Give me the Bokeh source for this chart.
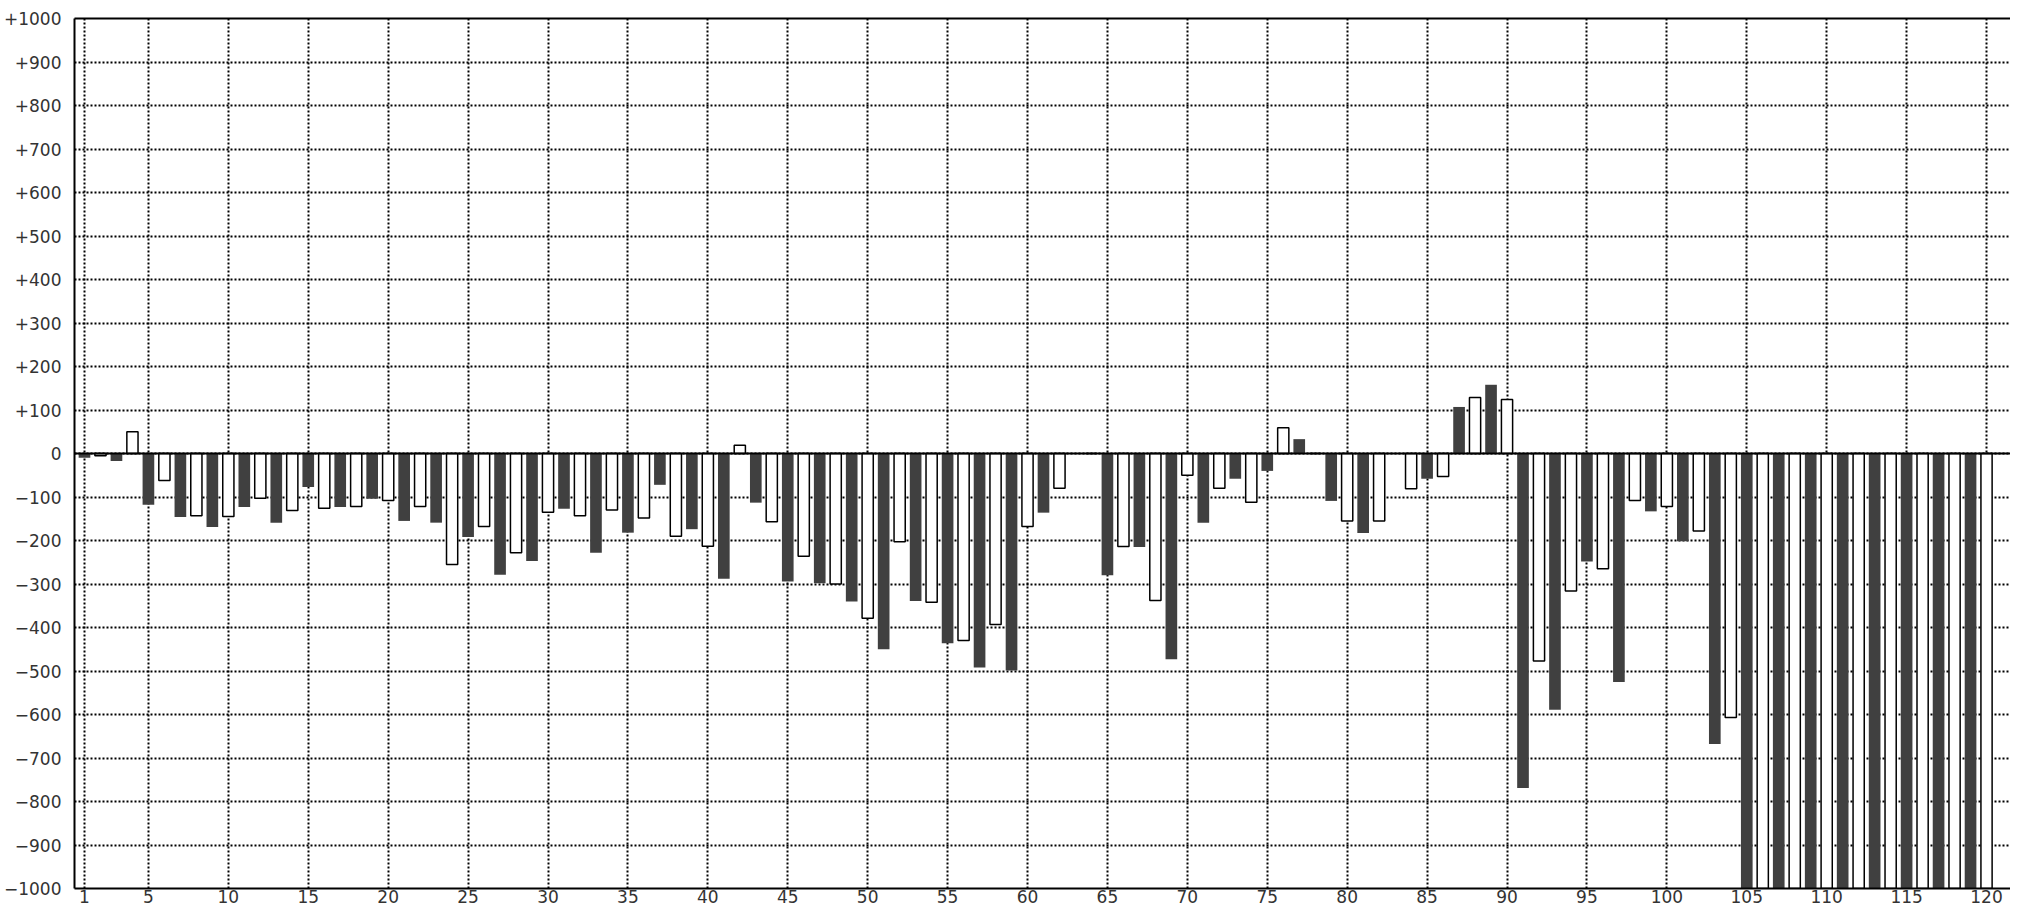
from bokeh.plotting import figure
from bokeh.models import FixedTicker, Range1d, Span, LinearAxis
from bokeh.embed import file_html
from bokeh.resources import INLINE

# ---- data ----
positions = list(range(1, 121))
values = [
    -10, -5, -17, 50, -118, -62, -146, -143, -169, -145,
    -123, -103, -159, -131, -77, -126, -123, -122, -104, -108,
    -155, -122, -159, -255, -192, -168, -279, -228, -247, -135,
    -127, -143, -228, -130, -182, -148, -72, -190, -174, -213,
    -288, 19, -113, -157, -294, -236, -298, -300, -340, -379,
    -450, -203, -339, -342, -436, -430, -492, -393, -499, -168,
    -136, -80, 0, 0, -280, -214, -215, -338, -473, -50,
    -159, -80, -58, -112, -40, 59, 33, 0, -109, -155,
    -183, -155, 0, -81, -58, -53, 107, 129, 158, 124,
    -769, -477, -589, -316, -248, -265, -525, -108, -133, -122,
    -202, -178, -668, -607, -1000, -1000, -1000, -1000, -1000, -1000,
    -1000, -1000, -1000, -1000, -1000, -1000, -1000, -1000, -1000, -1000,
]
x_ticks = [1] + list(range(5, 121, 5))
y_ticks = list(range(-1000, 1001, 100))


def ylab(v):
    if v > 0:
        return "+%d" % v
    if v == 0:
        return "0"
    return "\u2212%d" % (-v)


y_labels = {v: ylab(v) for v in y_ticks}

dark_x = [x for x in positions if x % 2 == 1]
dark_v = [values[x - 1] for x in dark_x]
light_x = [x for x in positions if x % 2 == 0]
light_v = [values[x - 1] for x in light_x]

FONT = "DejaVu Sans"
LABEL_COLOR = "#333333"

p = figure(
    width=2010, height=909,
    x_range=Range1d(0.375, 121.5), y_range=Range1d(-1000, 1000),
    output_backend="svg", toolbar_location=None,
    min_border_left=72, min_border_right=0, min_border_top=18, min_border_bottom=21,
)
p.outline_line_color = None
p.background_fill_color = "white"
p.border_fill_color = "white"

# grid
p.xgrid.ticker = FixedTicker(ticks=x_ticks)
p.ygrid.ticker = FixedTicker(ticks=y_ticks)
for g in (p.xgrid[0], p.ygrid[0]):
    g.grid_line_color = "black"
    g.grid_line_dash = "2 2"
    g.grid_line_width = 2
    g.grid_line_alpha = 1.0

# axes
p.xaxis.ticker = FixedTicker(ticks=x_ticks)
p.yaxis.ticker = FixedTicker(ticks=y_ticks)
p.yaxis.major_label_overrides = y_labels
for ax in (p.xaxis[0], p.yaxis[0]):
    ax.axis_line_color = "black"
    ax.axis_line_width = 2
    ax.major_tick_out = 0
    ax.major_tick_in = 0
    ax.minor_tick_out = 0
    ax.minor_tick_in = 0
    ax.major_label_text_font = FONT
    ax.major_label_text_font_size = "17px"
    ax.major_label_text_color = LABEL_COLOR
p.yaxis.major_label_standoff = 13
p.xaxis.major_label_standoff = 1

top = LinearAxis(ticker=FixedTicker(ticks=[]), axis_line_color="black", axis_line_width=2,
                 major_tick_out=0, major_tick_in=0, minor_tick_out=0, minor_tick_in=0,
                 major_label_text_font_size="0px", major_label_standoff=0)
p.add_layout(top, "above")

# bars
p.vbar(x=dark_x, top=dark_v, bottom=0, width=0.73,
       fill_color="#404040", line_color=None)
p.vbar(x=light_x, top=light_v, bottom=0, width=0.70,
       fill_color="white", line_color="black", line_width=1.5)

# zero line
p.add_layout(Span(location=0, dimension="width", line_color="black", line_width=2))

open("out.html", "w").write(file_html(p, INLINE))
